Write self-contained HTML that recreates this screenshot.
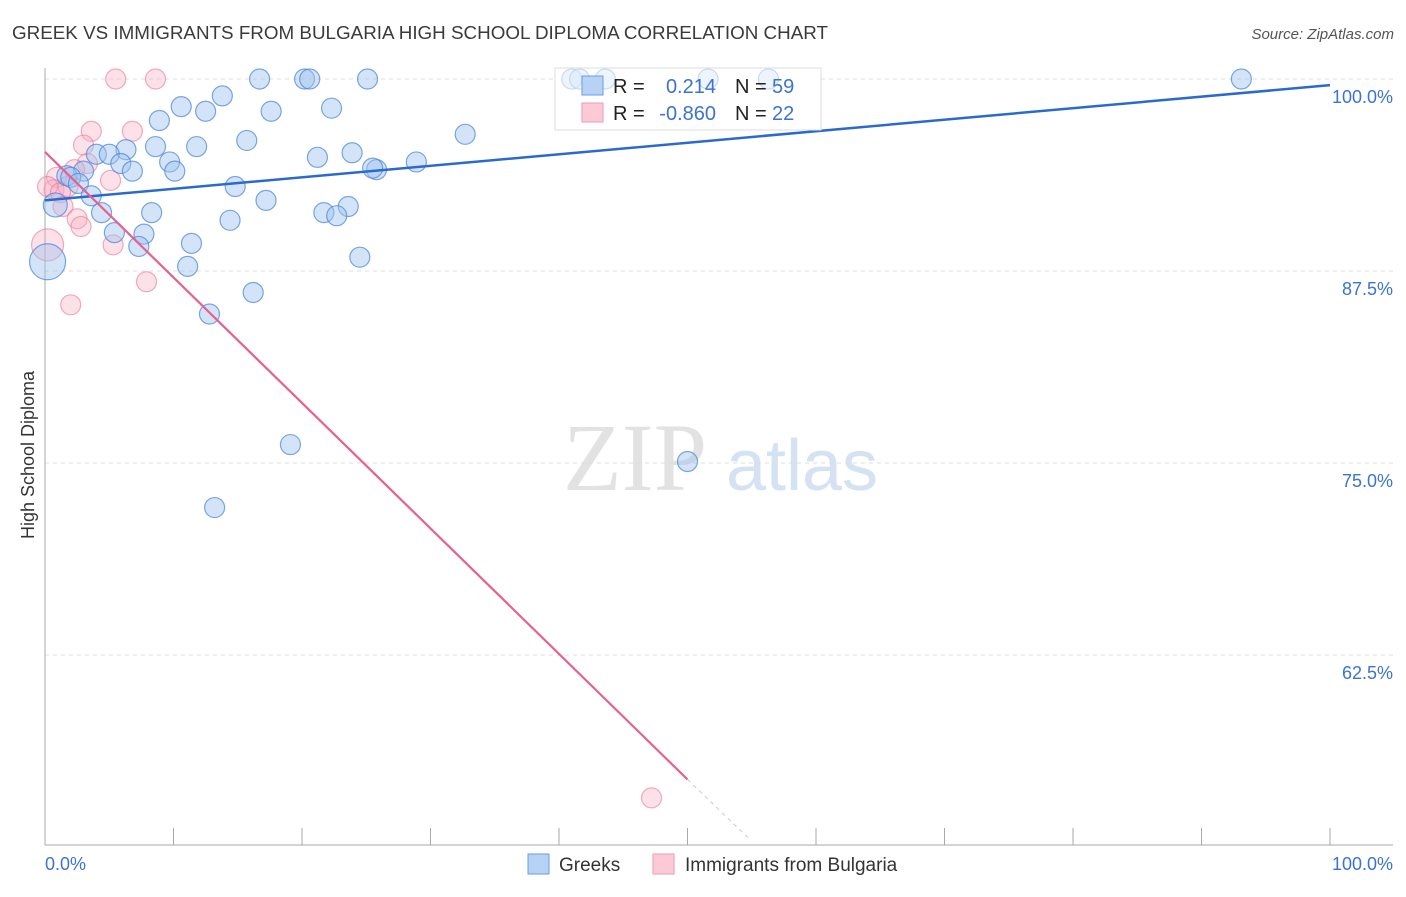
<!DOCTYPE html>
<html><head><meta charset="utf-8"><style>
body{margin:0;background:#fff;font-family:"Liberation Sans",sans-serif;}
</style></head><body>
<svg width="1406" height="892" xmlns="http://www.w3.org/2000/svg">
<text x="12" y="39" font-size="18" fill="#3a3a3a" textLength="816" lengthAdjust="spacingAndGlyphs">GREEK VS IMMIGRANTS FROM BULGARIA HIGH SCHOOL DIPLOMA CORRELATION CHART</text>
<text x="1394" y="39" font-size="15" fill="#555" font-style="italic" text-anchor="end">Source: ZipAtlas.com</text>
<g>
<text x="635" y="490" font-size="96" font-family="Liberation Serif,serif" fill="#e2e2e2" text-anchor="middle">ZIP</text>
<text x="802" y="490" font-size="72" fill="#d4e2f4" text-anchor="middle">atlas</text>
</g>
<g id="grid"></g>
<g id="axes"></g>
<g>
<rect x="555" y="68" width="266" height="62" fill="#fff" stroke="#ddd"/>
</g>
<g id="pts"></g>
<g id="lines"></g>
<g>
<rect x="555" y="68" width="266" height="62" fill="rgba(255,255,255,0.6)" stroke="#ddd"/>
<rect x="582" y="76" width="21" height="19" fill="#b7d2f5" stroke="#6a9ee0"/>
<rect x="582" y="103" width="21" height="19" fill="#fcc9d6" stroke="#ee9ab2"/>
<g font-size="20">
<text x="613" y="93" fill="#222">R =</text><text x="716" y="93" fill="#3b73d4" text-anchor="end">0.214</text>
<text x="735" y="93" fill="#222">N =</text><text x="772" y="93" fill="#3b73d4">59</text>
<text x="613" y="120" fill="#222">R =</text><text x="716" y="120" fill="#3b73d4" text-anchor="end">-0.860</text>
<text x="735" y="120" fill="#222">N =</text><text x="772" y="120" fill="#3b73d4">22</text>
</g></g>
<text transform="translate(34,455) rotate(-90)" font-size="18" fill="#333" text-anchor="middle">High School Diploma</text>
<text x="45" y="870" font-size="18" fill="#3b73d4">0.0%</text>
<text x="1393" y="870" font-size="18" fill="#3b73d4" text-anchor="end">100.0%</text>
<g>
<rect x="528" y="854" width="21" height="20" fill="#b7d2f5" stroke="#6a9ee0"/>
<text x="559" y="871" font-size="19" fill="#333">Greeks</text>
<rect x="653" y="854" width="21" height="20" fill="#fcc9d6" stroke="#ee9ab2"/>
<text x="685" y="871" font-size="19" fill="#333">Immigrants from Bulgaria</text>
</g>
</svg>
<script>
const yTicks=[100,87.5,75,62.5];
const yTickLabels=["100.0%","87.5%","75.0%","62.5%"];
const greekX=[16.7,20.2,20.6,25.1,41.0,41.6,43.6,51.6,56.3,93.1,13.8,10.6,22.3,12.5,17.6,8.9,32.7,15.7,8.6,11.8,6.3,4.0,5.0,23.9,21.2,9.7,5.9,28.9,25.8,25.5,10.1,6.8,3.0,1.7,2.0,2.6,14.8,3.6,17.2,0.8,8.3,23.6,21.7,22.7,4.4,14.4,5.4,7.7,11.4,7.3,24.5,11.1,16.2,12.8,19.1,13.2,50.0,0.2];
const greekY=[100,100,100,100,100,100,100,100,100,100,98.9,98.2,98.1,97.9,97.9,97.3,96.4,96.0,95.6,95.6,95.4,95.1,95.1,95.2,94.9,94.6,94.5,94.6,94.1,94.2,94.0,94.0,94.0,93.7,93.6,93.2,93.0,92.4,92.1,91.8,91.3,91.7,91.3,91.1,91.3,90.8,90.0,89.9,89.3,89.1,88.4,87.8,86.1,84.7,76.2,72.1,75.1,88.1];
const greekSize=[10,10,10,10,10,10,10,10,10,10,10,10,10,10,10,10,10,10,10,10,10,10,10,10,10,10,10,10,10,10,10,10,10,10,10,10,10,10,10,12,10,10,10,10,10,10,10,10,10,10,10,10,10,10,10,10,10,18];
const bulX=[5.5,8.6,3.6,6.8,3.0,3.3,2.3,5.1,0.9,0.7,1.8,0.2,1.2,1.4,2.5,2.8,5.3,0.2,7.9,2.0,47.2];
const bulY=[100,100,96.6,96.6,95.7,94.5,94.1,93.4,93.6,92.8,93.0,93.0,92.6,91.7,90.9,90.4,89.2,89.2,86.8,85.3,53.2];
const bulSize=[10,10,10,10,10,10,10,10,10,10,10,10,10,10,10,10,10,16,10,10,10];
const greekLine=[[0,92.1],[100,99.6]];
const bulLine=[[0,95.25],[50,54.4]];
const bulLineExt=[[50,54.4],[54.9,50.45]];
const NS="http://www.w3.org/2000/svg";
const xs=v=>45+v*12.85, ys=v=>79+(100-v)*15.36;
function mk(t,a,p){const e=document.createElementNS(NS,t);for(const k in a)e.setAttribute(k,a[k]);p.appendChild(e);return e;}
const grid=document.getElementById('grid'),axes=document.getElementById('axes');
yTicks.forEach((t,i)=>{
 const l=mk('line',{x1:45,x2:1393,y1:ys(t),y2:ys(t),stroke:'#ddd','stroke-dasharray':'4,4'},grid);
 
 
 const tx=mk('text',{x:1393,y:ys(t)+24,'font-size':18,fill:'#3b73d4','text-anchor':'end'},grid);
 tx.textContent=yTickLabels[i];
 
 
});
const ax=mk('line',{x1:45,x2:1393,y1:845,y2:845,stroke:'#aaa'},axes);


const ay=mk('line',{x1:45,x2:45,y1:68,y2:845,stroke:'#aaa'},axes);


for(let i=0;i<=10;i++){
 const tk=mk('line',{x1:xs(i*10),x2:xs(i*10),y1:828,y2:845,stroke:'#aaa'},axes);
 
 
}
const pts=document.getElementById('pts');
bulX.forEach((x,i)=>{
 const c=mk('circle',{cx:xs(x),cy:ys(bulY[i]),r:bulSize[i],fill:'rgba(248,170,192,0.35)',stroke:'rgba(232,120,152,0.6)','stroke-width':1.2},pts);
 
 
});
greekX.forEach((x,i)=>{
 const c=mk('circle',{cx:xs(x),cy:ys(greekY[i]),r:greekSize[i],fill:'rgba(160,196,240,0.45)',stroke:'rgba(70,130,215,0.7)','stroke-width':1.2},pts);
 
 
});
const lines=document.getElementById('lines');
const gl=mk('line',{x1:xs(greekLine[0][0]),y1:ys(greekLine[0][1]),x2:xs(greekLine[1][0]),y2:ys(greekLine[1][1]),stroke:'#2a6ad0','stroke-width':2.5},lines);


const bl=mk('line',{x1:xs(bulLine[0][0]),y1:ys(bulLine[0][1]),x2:xs(bulLine[1][0]),y2:ys(bulLine[1][1]),stroke:'#e8608e','stroke-width':2.2},lines);


const be=mk('line',{x1:xs(bulLineExt[0][0]),y1:ys(bulLineExt[0][1]),x2:xs(bulLineExt[1][0]),y2:ys(bulLineExt[1][1]),stroke:'#ccc','stroke-width':1,'stroke-dasharray':'4,4'},lines);


</script>
</body></html>
